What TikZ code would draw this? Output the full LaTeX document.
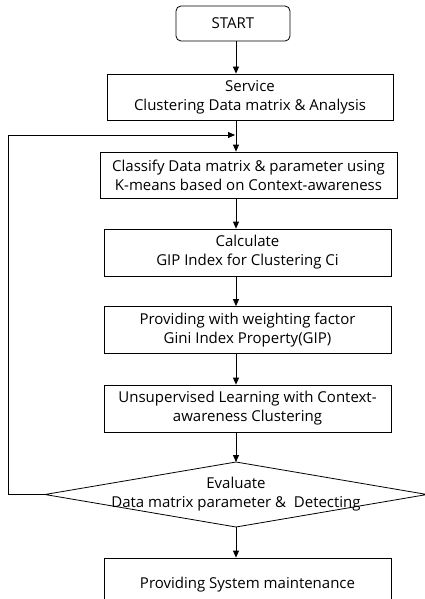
\documentclass[tikz,border=0pt]{standalone}
\usepackage{fontspec}
\setmainfont{Open Sans}
\usetikzlibrary{arrows.meta}
\tikzset{
  stepbox/.style={draw, line width=0.8pt, minimum width=287pt, minimum height=47pt, align=center, inner sep=0pt},
  flow/.style={-{Triangle[length=7pt,width=6pt]}, line width=0.8pt}
}
\begin{document}
\begin{tikzpicture}[x=1pt, y=-1pt, font=\fontsize{15}{19}\selectfont]
  \useasboundingbox (0,0) rectangle (425,599);
  \coordinate (spine) at (236,0);

  % boxes
  \node[draw, line width=0.8pt, rounded corners=5pt, minimum width=114pt, minimum height=35pt] (start) at (233,23.5) {START};
  \node[stepbox, minimum width=286pt, minimum height=46pt] (service) at (250,97) {Service\\Clustering Data matrix \& Analysis};
  \node[stepbox, minimum width=297pt, minimum height=46pt] (classify) at (248.5,175) {Classify Data matrix \& parameter using\\K-means based on Context-awareness};
  \node[stepbox] (calc) at (247.5,252.5) {Calculate\\GIP Index for Clustering Ci};
  \node[stepbox] (weight) at (247.5,330) {Providing with weighting factor\\Gini Index Property(GIP)};
  \node[stepbox] (unsup) at (247.5,408.5) {Unsupervised Learning with Context-\\awareness Clustering};

  % decision
  \node[align=center] (eval) at (236,494.5) {Evaluate\\Data matrix parameter \&\ \ Detecting};
  \coordinate (evN) at (236,462);
  \coordinate (evS) at (236,527);
  \coordinate (evW) at (45,494.5);
  \coordinate (evE) at (427,494.5);
  \draw[line width=0.8pt] (evN) -- (evE) -- (evS) -- (evW) -- cycle;

  \node[stepbox, minimum height=54pt] (maint) at (247.5,585) {Providing System maintenance};

  % arrows
  \draw[flow] (start.south -| spine) -- (service.north -| spine);
  \draw[flow] (service.south -| spine) -- (classify.north -| spine);
  \draw[flow] (classify.south -| spine) -- (calc.north -| spine);
  \draw[flow] (calc.south -| spine) -- (weight.north -| spine);
  \draw[flow] (weight.south -| spine) -- (unsup.north -| spine);
  \draw[flow] (unsup.south -| spine) -- (evN);
  \draw[flow] (evS) -- (maint.north -| spine);

  % feedback loop
  \coordinate (join) at (235,135);
  \draw[flow] (evW) -- (8,494.5) |- (join);
\end{tikzpicture}
\end{document}
